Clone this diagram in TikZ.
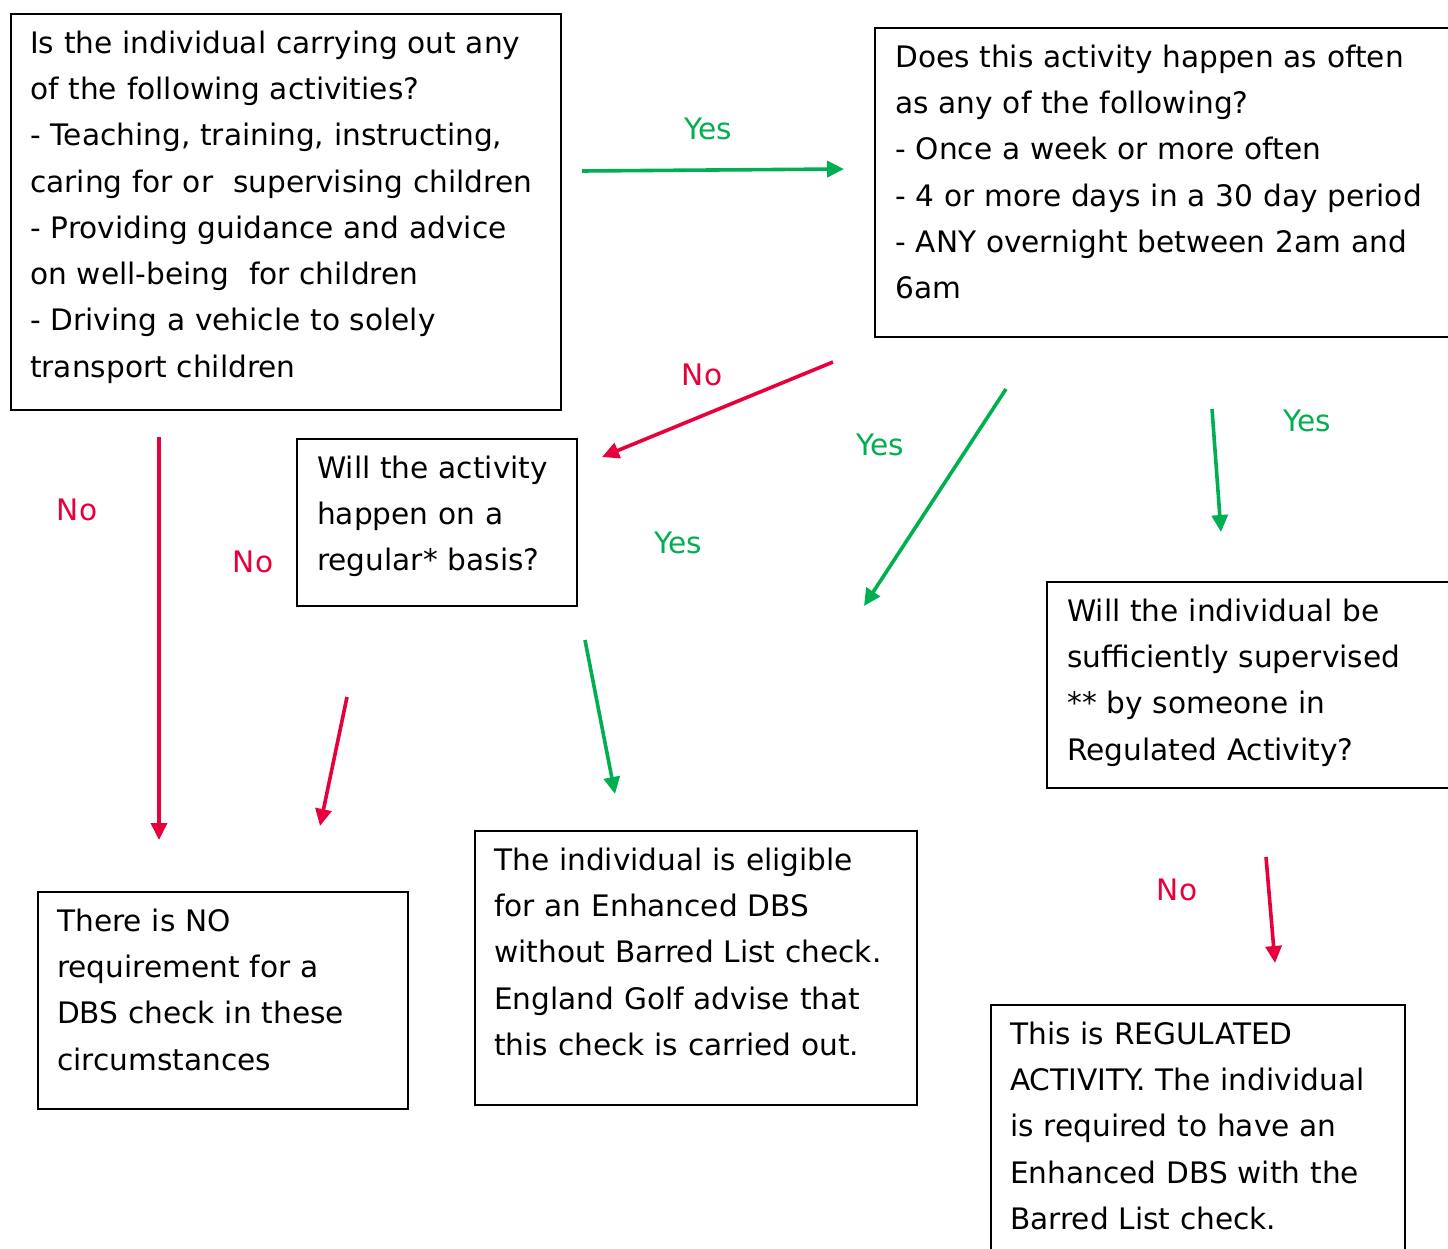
\documentclass[tikz,border=0pt]{standalone}
\usepackage{fontspec}
\setmainfont{DejaVu Sans}
\usetikzlibrary{arrows.meta,calc}
\definecolor{ygreen}{HTML}{00B050}
\definecolor{nred}{HTML}{E8003D}
\newcommand{\fl}{\rule{0pt}{30pt}}
\begin{document}
\begin{tikzpicture}[x=1pt,y=-1pt,
  box/.style={draw=black,line width=2.2pt,anchor=north west,inner sep=0pt,minimum width=#1},
  txt/.style={anchor=north west,inner sep=0pt,text width=700pt,align=left,
    font=\fontsize{29.6}{46.3}\selectfont},
  lab/.style={anchor=base,inner sep=0pt,font=\fontsize{29.6}{46.3}\selectfont},
  yeslab/.style={lab,text=ygreen},
  nolab/.style={lab,text=nred},
  arr/.style={line width=3.6pt,-{Triangle[length=17pt,width=16pt]}},
  yesarr/.style={arr,draw=ygreen},
  noarr/.style={arr,draw=nred}]
\useasboundingbox (0,0) rectangle (1448,1249);
% boxes
\node (A) [box=550pt,minimum height=396pt] at (10,13) {};
\node (B) [box=620pt,minimum height=309pt] at (874,27) {};
\node (C) [box=280pt,minimum height=167pt] at (296,438) {};
\node (D) [box=450pt,minimum height=206pt] at (1046,581) {};
\node (E) [box=370pt,minimum height=217pt] at (37,891) {};
\node (F) [box=442pt,minimum height=274pt] at (474,830) {};
\node (G) [box=414pt,minimum height=300pt] at (990,1004) {};
% texts
\node (At) [txt] at ($(A.north west)+(20,10)$) {\fl Is the individual carrying out any\\of the following activities?\\- Teaching, training, instructing,\\caring for or\ \ supervising children\\- Providing guidance and advice\\on well-being\ \ for children\\- Driving a vehicle to solely\\transport children};
\node (Bt) [txt] at ($(B.north west)+(21,10)$) {\fl Does this activity happen as often\\as any of the following?\\- Once a week or more often\\- 4 or more days in a 30 day period\\- ANY overnight between 2am and\\6am};
\node (Ct) [txt] at ($(C.north west)+(21,10)$) {\fl Will the activity\\happen on a\\regular* basis?};
\node (Dt) [txt] at ($(D.north west)+(21,10)$) {\fl Will the individual be\\sufficiently supervised\\{}** by someone in\\Regulated Activity?};
\node (Et) [txt] at ($(E.north west)+(20,10)$) {\fl There is NO\\requirement for a\\DBS check in these\\circumstances};
\node (Ft) [txt] at ($(F.north west)+(20,10)$) {\fl The individual is eligible\\for an Enhanced DBS\\without Barred List check.\\England Golf advise that\\this check is carried out.};
\node (Gt) [txt] at ($(G.north west)+(20,10)$) {\fl This is REGULATED\\ACTIVITY. The individual\\is required to have an\\Enhanced DBS with the\\Barred List check.};
% arrow end points
\coordinate (a1s) at (582,171); \coordinate (a1e) at (844,169);
\coordinate (a2s) at (833,362); \coordinate (a2e) at (602,457);
\coordinate (a3s) at (1006,389); \coordinate (a3e) at (864,606);
\coordinate (a4s) at (1212,409); \coordinate (a4e) at (1221,532);
\coordinate (a5s) at (159,437); \coordinate (a5e) at (159,840);
\coordinate (a6s) at (347,697); \coordinate (a6e) at (320,826);
\coordinate (a7s) at (585,640); \coordinate (a7e) at (615,794);
\coordinate (a8s) at (1266,857); \coordinate (a8e) at (1275,963);
\draw[yesarr] (a1s) -- (a1e);
\draw[noarr] (a2s) -- (a2e);
\draw[yesarr] (a3s) -- (a3e);
\draw[yesarr] (a4s) -- (a4e);
\draw[noarr] (a5s) -- (a5e);
\draw[noarr] (a6s) -- (a6e);
\draw[yesarr] (a7s) -- (a7e);
\draw[noarr] (a8s) -- (a8e);
% labels
\node (l1) [yeslab] at (708,140) {Yes};
\node (l2) [nolab] at (702,385) {No};
\node (l3) [yeslab] at (880,455) {Yes};
\node (l4) [yeslab] at (1307,431) {Yes};
\node (l5) [nolab] at (77,520) {No};
\node (l6) [nolab] at (253,572) {No};
\node (l7) [yeslab] at (678,553) {Yes};
\node (l8) [nolab] at (1177,900) {No};
\end{tikzpicture}
\end{document}
